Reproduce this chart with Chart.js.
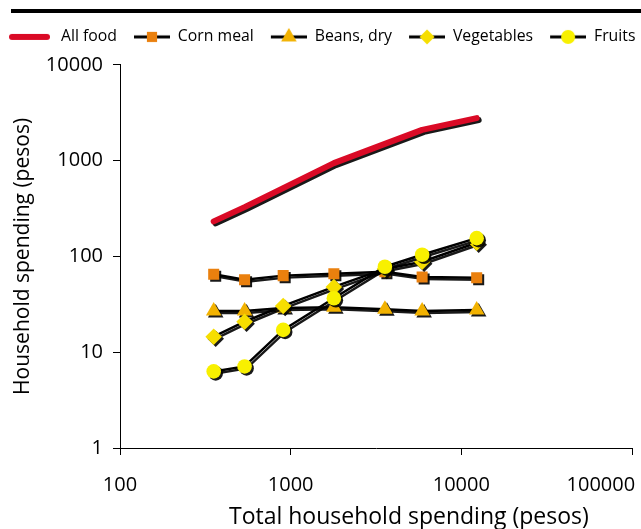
<!DOCTYPE html>
<html>
<head>
<meta charset="utf-8">
<script src="https://cdn.jsdelivr.net/npm/chart.js@4.4.0/dist/chart.umd.min.js"></script>
<style>
  html, body { margin: 0; padding: 0; background: #fff; }
  #wrap { position: relative; width: 641px; height: 529px; }
  #rule { position: absolute; left: 11px; top: 9px; width: 630px; height: 4px; background: #000; }
</style>
</head>
<body>
<div id="wrap">
  <div id="rule"></div>
  <canvas id="chart" width="641" height="529"></canvas>
</div>
<script>
// Total household spending (x) and spending per item (y), pesos
const spending   = [354, 537, 904, 1791, 3566, 5892, 12300];
const allFood    = [232, 327, 516, 940, 1496, 2094, 2775];
const cornMeal   = [65, 57, 63, 66, 69, 61, 60];
const beansDry   = [27, 27, 29, 29.5, 28, 27, 27.6];
const vegetables = [14.5, 20.8, 30.4, 48, 74, 88, 139];
const fruits     = [6.3, 7.1, 17.1, 36.6, 78, 104, 155];

const xTicks = [100, 1000, 10000, 100000];
const yTicks = [1, 10, 100, 1000, 10000];

const FONT = "'Open Sans', sans-serif";

const pts = ys => ys.map((y, i) => ({ x: spending[i], y: y }));

// legend symbol: black line with the marker in the middle (left part of the box is a gap)
function legendIcon(style, color, radius) {
    const c = document.createElement('canvas');
    c.width = 51; c.height = 20;
    const g = c.getContext('2d');
    if (style === 'line') {
        g.strokeStyle = color; g.lineWidth = 6; g.lineCap = 'round';
        g.beginPath(); g.moveTo(10, 10); g.lineTo(45, 10); g.stroke();
    } else {
        g.strokeStyle = '#000'; g.lineWidth = 3;
        g.beginPath(); g.moveTo(15, 10); g.lineTo(51, 10); g.stroke();
        g.fillStyle = color;
        Chart.helpers.drawPoint(g, { pointStyle: style, radius: radius, borderWidth: 0, rotation: 0 }, 33, 10);
    }
    return c;
}

const seriesStyle = (color, style, radius, order) => ({
    borderColor: '#000',
    borderWidth: 2.5,
    pointStyle: style,
    pointRadius: radius,
    pointBackgroundColor: color,
    pointBorderWidth: 0,
    showLine: true,
    order: order
});

const datasets = [
    {
        label: 'All food', data: pts(allFood),
        borderColor: '#DA0A26', borderWidth: 6, borderCapStyle: 'round', borderJoinStyle: 'round',
        pointRadius: 0, showLine: true, order: 4,
        legendIcon: legendIcon('line', '#DA0A26')
    },
    Object.assign({ label: 'Corn meal', data: pts(cornMeal), legendIcon: legendIcon('rect', '#EA800E', 7.2) },
        seriesStyle('#EA800E', 'rect', 7.8, 3)),
    Object.assign({ label: 'Beans, dry', data: pts(beansDry), legendIcon: legendIcon('triangle', '#F2B200', 9) },
        seriesStyle('#F2B200', 'triangle', 9, 2)),
    Object.assign({ label: 'Vegetables', data: pts(vegetables), legendIcon: legendIcon('rectRot', '#F6DE00', 7.5) },
        seriesStyle('#F6DE00', 'rectRot', 8.3, 1)),
    Object.assign({ label: 'Fruits', data: pts(fruits), legendIcon: legendIcon('circle', '#F8F000', 7) },
        seriesStyle('#F8F000', 'circle', 7.3, 0))
];

// hard drop shadow under lines and markers
const shadowPlugin = {
    id: 'dropShadow',
    beforeDatasetsDraw(chart) {
        const ctx = chart.ctx;
        ctx.save();
        ctx.shadowColor = 'rgba(0,0,0,0.9)';
        ctx.shadowOffsetX = 2;
        ctx.shadowOffsetY = 2;
        ctx.shadowBlur = 0;
    },
    afterDatasetsDraw(chart) {
        chart.ctx.restore();
    }
};

const axisCommon = {
    type: 'logarithmic',
    grid: { drawOnChartArea: false, drawTicks: true, tickLength: 7, color: '#000', lineWidth: 1 },
    border: { color: '#000', width: 1 }
};

new Chart(document.getElementById('chart'), {
    type: 'scatter',
    data: { datasets: datasets },
    options: {
        responsive: false,
        animation: false,
        layout: { padding: { top: 27, right: 0, left: 0, bottom: 0 } },
        plugins: {
            tooltip: { enabled: false },
            // empty title used as a gap between the legend and the plot
            title: { display: true, text: '', weight: 500, font: { size: 8, lineHeight: 1.25 }, padding: 0 },
            legend: {
                position: 'top',
                align: 'start',
                labels: {
                    usePointStyle: true,
                    pointStyleWidth: 51,
                    padding: 2,
                    color: '#000',
                    font: { family: FONT, size: 15.8 },
                    generateLabels(chart) {
                        return chart.data.datasets.map((ds, i) => ({
                            text: ds.label,
                            pointStyle: ds.legendIcon,
                            fillStyle: '#000',
                            strokeStyle: '#000',
                            lineWidth: 0,
                            hidden: false,
                            datasetIndex: i
                        }));
                    }
                }
            }
        },
        scales: {
            x: Object.assign({}, axisCommon, {
                min: 100, max: 100000,
                afterBuildTicks: s => { s.ticks = xTicks.map(v => ({ value: v })); },
                afterFit: s => { s.height = 81; s.paddingLeft = 0; s.paddingRight = 5; },
                ticks: {
                    color: '#000', padding: 18, maxRotation: 0, autoSkip: false,
                    font: { family: FONT, size: 20 },
                    // last label sits flush with the end of the axis
                    callback: v => v === xTicks[xTicks.length - 1] ? String(v) + ' '.repeat(12) : String(v)
                },
                title: {
                    display: true, text: ' '.repeat(11) + 'Total household spending (pesos)', color: '#000',
                    font: { family: FONT, size: 23, lineHeight: 1 }, padding: { top: 0, bottom: 0 }
                }
            }),
            y: Object.assign({}, axisCommon, {
                min: 1, max: 10000,
                afterBuildTicks: s => { s.ticks = yTicks.map(v => ({ value: v })); },
                afterFit: s => { s.width = 120; },
                ticks: {
                    color: '#000', padding: 10,
                    font: { family: FONT, size: 20 },
                    callback: v => String(v)
                },
                title: {
                    display: true, text: 'Household spending (pesos)', color: '#000',
                    font: { family: FONT, size: 21 }, padding: { top: 10, bottom: 0 }
                }
            })
        }
    },
    plugins: [shadowPlugin]
});
</script>
</body>
</html>
